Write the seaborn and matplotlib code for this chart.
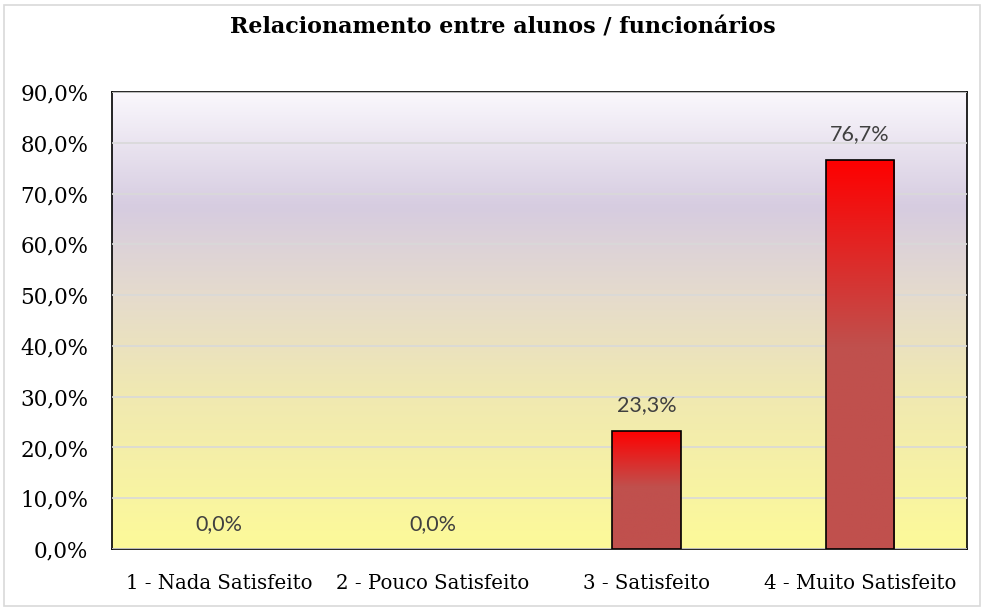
import numpy as np
import pandas as pd
import matplotlib
matplotlib.use("Agg")
import matplotlib.pyplot as plt
import seaborn as sns
from matplotlib.colors import LinearSegmentedColormap
from matplotlib.patches import Rectangle

categories = ["1 - Nada Satisfeito", "2 - Pouco Satisfeito", "3 - Satisfeito", "4 - Muito Satisfeito"]
values = [0.0, 0.0, 23.3, 76.7]
yticks = [0, 10, 20, 30, 40, 50, 60, 70, 80, 90]
title = "Relacionamento entre alunos / funcionários"

sns.set_theme(style="white")
plt.rcParams['font.family'] = ['DejaVu Serif', 'Liberation Serif']

df = pd.DataFrame({"cat": categories, "val": values})

fig = plt.figure(figsize=(9.84, 6.08), dpi=100)
ax = fig.add_axes([112/984, 1-549/608, (967-112)/984, (549-92)/608])

sns.barplot(data=df, x="cat", y="val", ax=ax, width=0.32, color="#c0504d",
            edgecolor="black", linewidth=1.2, zorder=3)

ax.set_ylim(0, 90)
ax.set_xlim(-0.5, 3.5)

# background gradient
bg = LinearSegmentedColormap.from_list("bg", [
    (0.0, (0.99, 0.98, 0.60)),
    (0.35, (0.94, 0.91, 0.70)),
    (0.55, (0.90, 0.86, 0.80)),
    (0.75, (0.84, 0.80, 0.88)),
    (1.0, (0.98, 0.97, 0.99)),
])
grad = np.linspace(0, 1, 256).reshape(-1, 1)
ax.imshow(grad, aspect="auto", cmap=bg, origin="lower",
          extent=[-0.5, 3.5, 0, 90], zorder=0)

# bar gradients
barcmap = LinearSegmentedColormap.from_list("bar", [
    (0.0, "#c0504d"), (0.52, "#c0504d"), (1.0, "#ff0000")])
for p in ax.patches:
    h = p.get_height()
    if h <= 0:
        p.set_visible(False)
        continue
    x0 = p.get_x(); w = p.get_width()
    im = ax.imshow(grad, aspect="auto", cmap=barcmap, origin="lower",
                   extent=[x0, x0 + w, 0, h], zorder=3.5)
    im.set_clip_path(p)
    p.set_facecolor("none")
    p.set_zorder(4)

ax.set_yticks(yticks)
ax.set_yticklabels([f"{t:.1f}%".replace(".", ",") for t in yticks], fontsize=15.5)
ax.grid(axis="y", color="#d9d9d9", linewidth=1.2, zorder=1)
ax.set_axisbelow(False)
for gl in ax.get_ygridlines():
    gl.set_zorder(1)

ax.set_xticks(range(4))
ax.set_xticklabels(categories, fontsize=14.2)
ax.tick_params(axis="x", length=0, pad=18)
ax.tick_params(axis="y", length=0, pad=17)
for t in ax.get_xticklabels() + ax.get_yticklabels():
    t.set_color("black")
# category boundary ticks
ax.set_xticks([-0.5, 0.5, 1.5, 2.5, 3.5], minor=True)
ax.tick_params(axis="x", which="minor", length=6, width=1.2, color="black", direction="out")
ax.set_xlabel("")
ax.set_ylabel("")

for s in ax.spines.values():
    s.set_visible(True)
    s.set_color("black")
    s.set_linewidth(1.2)

for i, v in enumerate(values):
    ax.text(i, v + 3, f"{v:.1f}%".replace(".", ","), ha="center", va="bottom",
            fontsize=15.5, color="#404040", family=["Lato", "DejaVu Sans"], zorder=5)

fig.text(503/984, 1-28/608, title, ha="center", va="center", fontsize=16,
         fontweight="bold", color="black", family=["DejaVu Serif", "Liberation Serif"])

fig.patches.append(Rectangle((4/984, 0.004), 1-8/984, 1-5/608-0.004, transform=fig.transFigure,
                             fill=False, edgecolor="#d9d9d9", linewidth=1.2))

fig.savefig("out.png", dpi=100)
